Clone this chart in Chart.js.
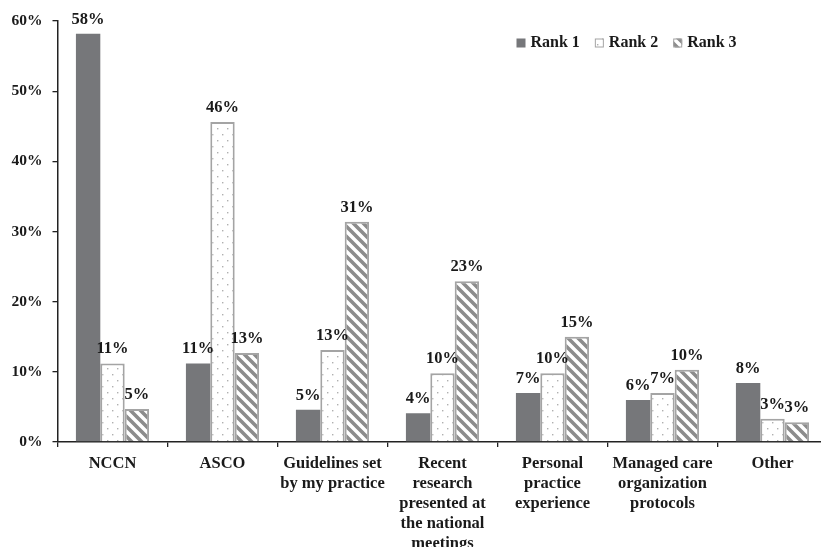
<!DOCTYPE html>
<html>
<head>
<meta charset="utf-8">
<script src="https://cdn.jsdelivr.net/npm/chart.js@4.4.1/dist/chart.umd.min.js"></script>
<style>
  html, body { margin: 0; padding: 0; background: #ffffff; overflow: hidden; width: 821px; height: 547px; }
  #wrap { position: absolute; left: 0; top: 0; width: 830px; height: 552px; }
</style>
</head>
<body>
<div id="wrap"><canvas id="chart"></canvas></div>
<script>
// ---- data ----
const categories = [
  'NCCN',
  'ASCO',
  ['Guidelines set', 'by my practice'],
  ['Recent', 'research', 'presented at', 'the national', 'meetings'],
  ['Personal', 'practice', 'experience'],
  ['Managed care', 'organization', 'protocols'],
  'Other'
];
const seriesNames = ['Rank 1', 'Rank 2', 'Rank 3'];
const rank1 = [58.2, 11.2, 4.6, 4.1, 7.0, 6.0, 8.4];
const rank2 = [11.2, 45.6, 13.1, 9.8, 9.8, 7.0, 3.3];
const rank3 = [4.7, 12.7, 31.4, 22.9, 15.0, 10.3, 2.8];
const yTicks = [0, 10, 20, 30, 40, 50, 60];

// ---- styles ----
const FONT = '"Liberation Serif", "Times New Roman", serif';
const TEXT = '#1a1a1a';
const DARK = '#76777a';
const EDGE = '#a4a4a4';

function dotPattern() {
  const c = document.createElement('canvas');
  c.width = 10; c.height = 12;
  const g = c.getContext('2d');
  g.fillStyle = '#ffffff'; g.fillRect(0, 0, 10, 12);
  g.fillStyle = '#b0b0b0';
  g.fillRect(2, 2, 1.4, 1.4);
  g.fillRect(7, 8, 1.4, 1.4);
  return g.createPattern(c, 'repeat');
}
function hatchPattern() {
  const s = 10;
  const c = document.createElement('canvas');
  c.width = s; c.height = s;
  const g = c.getContext('2d');
  g.fillStyle = '#ffffff'; g.fillRect(0, 0, s, s);
  g.strokeStyle = '#8c8c8c';
  g.lineWidth = 3.6;
  g.beginPath();
  g.moveTo(-s, 0); g.lineTo(s, 2 * s);
  g.moveTo(0, 0); g.lineTo(s, s);
  g.moveTo(0, -s); g.lineTo(2 * s, s);
  g.stroke();
  return g.createPattern(c, 'repeat');
}
const DOTS = dotPattern();
const HATCH = hatchPattern();

const valueLabels = {
  id: 'valueLabels',
  afterDatasetsDraw(chart) {
    const ctx = chart.ctx;
    ctx.save();
    ctx.font = 'bold 16.5px ' + FONT;
    ctx.fillStyle = TEXT;
    ctx.textAlign = 'center';
    ctx.textBaseline = 'bottom';
    chart.data.datasets.forEach((ds, i) => {
      const meta = chart.getDatasetMeta(i);
      meta.data.forEach((bar, j) => {
        ctx.fillText(Math.round(ds.data[j]) + '%', bar.x, bar.y - 6);
      });
    });
    ctx.restore();
  }
};

const insideLegend = {
  id: 'insideLegend',
  afterDraw(chart) {
    const ctx = chart.ctx;
    const area = chart.chartArea;
    ctx.save();
    ctx.font = 'bold 16px ' + FONT;
    ctx.textBaseline = 'middle';
    ctx.textAlign = 'left';
    let x = area.right - 311;
    const y = area.top + 22;
    const box = 9;
    chart.data.datasets.forEach((ds) => {
      ctx.fillStyle = ds.backgroundColor;
      ctx.fillRect(x, y - box / 2, box, box);
      if (ds.borderWidth) {
        ctx.strokeStyle = ds.borderColor;
        ctx.lineWidth = 1;
        ctx.strokeRect(x + 0.5, y - box / 2 + 0.5, box - 1, box - 1);
      }
      ctx.fillStyle = TEXT;
      ctx.fillText(ds.label, x + box + 5, y);
      x += box + 5 + ctx.measureText(ds.label).width + 15;
    });
    ctx.restore();
  }
};

new Chart(document.getElementById('chart'), {
  type: 'bar',
  data: {
    labels: categories,
    datasets: [
      { label: seriesNames[0], data: rank1, backgroundColor: DARK, borderWidth: 0 },
      { label: seriesNames[1], data: rank2, backgroundColor: DOTS, borderColor: EDGE, borderWidth: 2 },
      { label: seriesNames[2], data: rank3, backgroundColor: HATCH, borderColor: EDGE, borderWidth: 2 }
    ]
  },
  options: {
    responsive: true,
    maintainAspectRatio: false,
    animation: false,
    layout: { padding: { top: 21, right: 2.5, left: 0, bottom: 0 } },
    datasets: { bar: { categoryPercentage: 0.665, barPercentage: 1.0, borderSkipped: 'bottom' } },
    plugins: { legend: { display: false }, tooltip: { enabled: false } },
    scales: {
      x: {
        offset: true,
        grid: { display: true, offset: true, drawOnChartArea: false, drawTicks: true, tickLength: 5, color: '#222', lineWidth: 1.3 },
        border: { display: true, color: '#222', width: 1.5 },
        ticks: {
          color: TEXT, padding: 6.5, maxRotation: 0, autoSkip: false,
          font: { family: FONT, size: 16.5, weight: 'bold', lineHeight: 1.212 }
        },
        afterFit(scale) { scale.height = 110; }
      },
      y: {
        min: 0, max: 60,
        afterBuildTicks(scale) { scale.ticks = yTicks.map(v => ({ value: v })); },
        grid: { display: true, drawOnChartArea: false, drawTicks: true, tickLength: 5, color: '#222', lineWidth: 1.3 },
        border: { display: true, color: '#222', width: 1.5 },
        ticks: {
          color: TEXT, padding: 10,
          font: { family: FONT, size: 15.5, weight: 'bold' },
          callback: v => v + '%'
        },
        afterFit(scale) { scale.width = 57.5; }
      }
    }
  },
  plugins: [valueLabels, insideLegend]
});
</script>
</body>
</html>
